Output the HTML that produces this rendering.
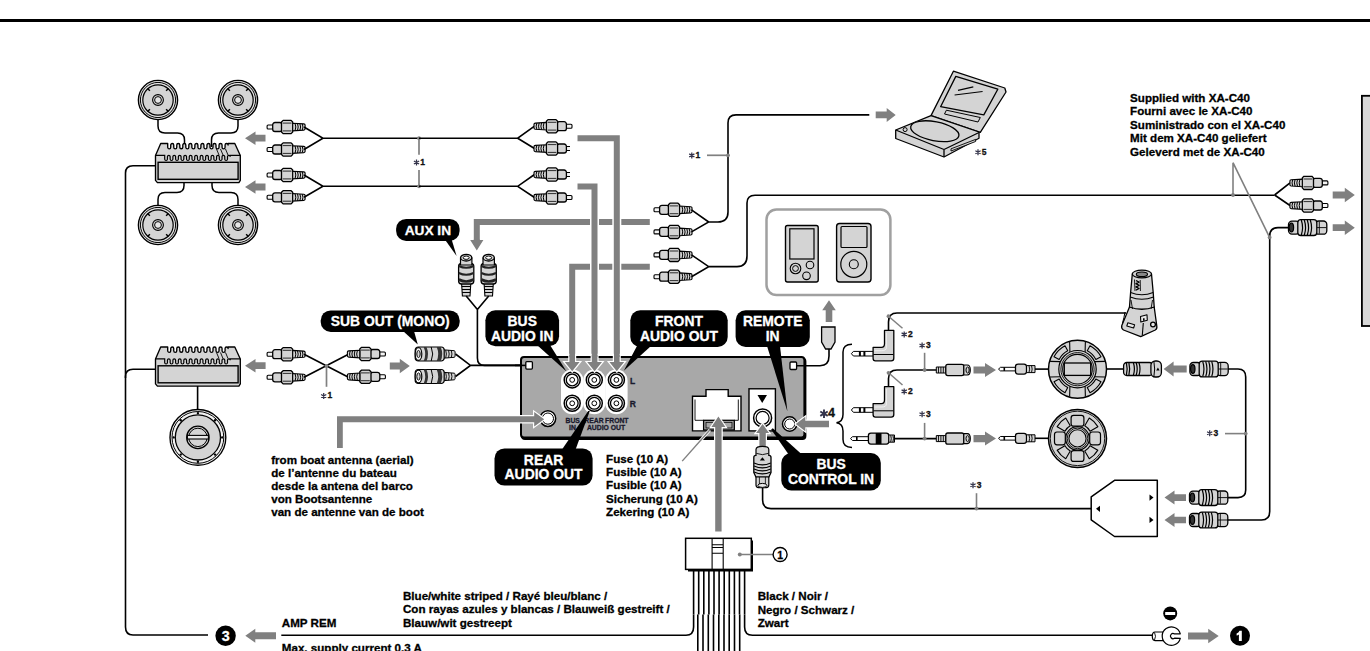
<!DOCTYPE html><html><head><meta charset="utf-8"><style>html,body{margin:0;padding:0;background:#fff;width:1370px;height:651px;overflow:hidden}svg{display:block;font-family:"Liberation Sans",sans-serif}</style></head><body>
<svg width="1370" height="651" viewBox="0 0 1370 651">

<defs>
 <g id="rcaL">
  <rect x="0.6" y="-2" width="9" height="4" rx="1" fill="#f4f4f4" stroke="#000" stroke-width="1.1"/>
  <rect x="6.2" y="-4.5" width="9.5" height="9" rx="2.3" fill="#d4d4d4" stroke="#000" stroke-width="1.3"/>
  <path d="M15,-5 L16.6,-6.6 L24.6,-6.6 L26.2,-5 L26.2,5 L24.6,6.6 L16.6,6.6 L15,5 Z" fill="#d4d4d4" stroke="#000" stroke-width="1.3" stroke-linejoin="round"/>
  <path d="M16.2,-3.9 H25 M16.2,3.9 H25" stroke="#000" stroke-width="0.8"/>
  <path d="M26.2,-3.8 L37.2,-3.1 Q38.6,-2.8 38.6,-2 V2 Q38.6,2.8 37.2,3.1 L26.2,3.8 Z" fill="#d4d4d4" stroke="#000" stroke-width="1.1"/>
  <path d="M28.6,-3.5 Q30,0 28.6,3.5 M31,-3.4 Q32.4,0 31,3.4 M33.4,-3.3 Q34.8,0 33.4,3.3 M35.8,-3.1 Q37.1,0 35.8,3.1" stroke="#000" stroke-width="1" fill="none"/>
 </g>
 <g id="rcaR"><use href="#rcaL" transform="scale(-1,1)"/></g>
 <g id="femL">
  <path d="M29.5,-4.2 L40.6,-3.3 Q41.4,-3 41.4,-2 V2 Q41.4,3 40.6,3.3 L29.5,4.2 Z" fill="#d4d4d4" stroke="#000" stroke-width="1"/>
  <path d="M32,-3.9 Q33.4,0 32,3.9 M34.8,-3.7 Q36.2,0 34.8,3.7 M37.6,-3.4 Q38.9,0 37.6,3.4" stroke="#000" stroke-width="0.9" fill="none"/>
  <rect x="1.5" y="-7" width="29" height="14" rx="3" fill="#d4d4d4" stroke="#000" stroke-width="1.2"/>
  <path d="M10,-7 Q13,0 10,7 H12.8 Q15.8,0 12.8,-7 Z" fill="#333"/>
  <path d="M23,-7 Q26,0 23,7 H27 Q30,0 27,-7 Z" fill="#333"/>
  <path d="M17.5,-7 Q20.5,0 17.5,7" stroke="#000" stroke-width="1" fill="none"/>
  <ellipse cx="4.8" cy="0" rx="3.3" ry="6.4" fill="#fff" stroke="#000" stroke-width="1.2"/>
  <ellipse cx="4.8" cy="0" rx="1.7" ry="3.6" fill="#d4d4d4" stroke="#000" stroke-width="1"/>
 </g>
 <g id="femR"><use href="#femL" transform="scale(-1,1)"/></g>
 <g id="femV">
  <path d="M-4.6,29.5 H4.6 L3.8,42 H-3.8 Z" fill="#d4d4d4" stroke="#000" stroke-width="1.1"/>
  <path d="M-4.4,32.5 H4.4 M-4.2,35.5 H4.2 M-4,38.5 H4" stroke="#000" stroke-width="1"/>
  <rect x="-7.6" y="9.5" width="15.2" height="20.5" rx="3" fill="#d4d4d4" stroke="#000" stroke-width="1.3"/>
  <path d="M-5.7,3.5 V11 H5.7 V3.5" fill="#d4d4d4" stroke="#000" stroke-width="1.2"/>
  <ellipse cx="0" cy="3.7" rx="5.6" ry="3.3" fill="#d4d4d4" stroke="#000" stroke-width="1.3"/>
  <ellipse cx="0" cy="3.7" rx="3" ry="1.7" fill="#fff" stroke="#000" stroke-width="1"/>
  <path d="M-7.4,12 Q0,15.5 7.4,12" stroke="#222" stroke-width="2.2" fill="none"/>
  <path d="M-7.4,19 Q0,22.5 7.4,19" stroke="#222" stroke-width="2" fill="none"/>
  <path d="M-7.4,25.5 Q0,29.5 7.4,25.5" stroke="#222" stroke-width="2.6" fill="none"/>
 </g>
 <g id="spk">
  <circle r="19.6" fill="#e4e4e4" stroke="#000" stroke-width="1.4"/>
  <circle r="17.6" fill="none" stroke="#000" stroke-width="1"/>
  <circle r="15.2" fill="#d4d4d4" stroke="#000" stroke-width="1.2"/>
  <path d="M-10.5,-11.5 l2.4,2.2 M10.5,-11.5 l-2.4,2.2 M-10.5,11.5 l2.4,-2.2 M10.5,11.5 l-2.4,-2.2" stroke="#000" stroke-width="1.5"/>
  <circle r="5.4" fill="#d4d4d4" stroke="#000" stroke-width="1.1"/>
  <circle r="3.4" fill="#e6e6e6" stroke="#000" stroke-width="1"/>
 </g>
 
 <g id="amp">
  <path d="M5.5,17.5 L10.7,5.5 H17.7 V7.01 v2.28 a1.51,1.51 0 0,0 3.02,0 v-2.28 a1.51,1.51 0 0,1 3.02,0 v2.28 a1.51,1.51 0 0,0 3.02,0 v-2.28 a1.51,1.51 0 0,1 3.02,0 v2.28 a1.51,1.51 0 0,0 3.02,0 v-2.28 a1.51,1.51 0 0,1 3.02,0 v2.28 a1.51,1.51 0 0,0 3.02,0 v-2.28 a1.51,1.51 0 0,1 3.02,0 v2.28 a1.51,1.51 0 0,0 3.02,0 v-2.28 a1.51,1.51 0 0,1 3.02,0 v2.28 a1.51,1.51 0 0,0 3.02,0 v-2.28 a1.51,1.51 0 0,1 3.02,0 v2.28 a1.51,1.51 0 0,0 3.02,0 v-2.28 a1.51,1.51 0 0,1 3.02,0 v2.28 a1.51,1.51 0 0,0 3.02,0 v-2.28 a1.51,1.51 0 0,1 3.02,0 v2.28 a1.51,1.51 0 0,0 3.02,0 v-2.28 a1.51,1.51 0 0,1 3.02,0 v2.28 a1.51,1.51 0 0,0 3.02,0 v-2.28 a1.51,1.51 0 0,1 3.02,0 V5.50  H84.8 L90.3,17.5 V42.4 L88.9,44.6 H7.4 L5.5,42.4 Z" fill="#d4d4d4" stroke="#000" stroke-width="1.35" stroke-linejoin="round"/>
  <path d="M5.5,17.3 H14.7 V18.67 v2.57 a1.37,1.37 0 0,0 2.73,0 v-2.57 a1.37,1.37 0 0,1 2.73,0 v2.57 a1.37,1.37 0 0,0 2.73,0 v-2.57 a1.37,1.37 0 0,1 2.73,0 v2.57 a1.37,1.37 0 0,0 2.73,0 v-2.57 a1.37,1.37 0 0,1 2.73,0 v2.57 a1.37,1.37 0 0,0 2.73,0 v-2.57 a1.37,1.37 0 0,1 2.73,0 v2.57 a1.37,1.37 0 0,0 2.73,0 v-2.57 a1.37,1.37 0 0,1 2.73,0 v2.57 a1.37,1.37 0 0,0 2.73,0 v-2.57 a1.37,1.37 0 0,1 2.73,0 v2.57 a1.37,1.37 0 0,0 2.73,0 v-2.57 a1.37,1.37 0 0,1 2.73,0 v2.57 a1.37,1.37 0 0,0 2.73,0 v-2.57 a1.37,1.37 0 0,1 2.73,0 v2.57 a1.37,1.37 0 0,0 2.73,0 v-2.57 a1.37,1.37 0 0,1 2.73,0 v2.57 a1.37,1.37 0 0,0 2.73,0 v-2.57 a1.37,1.37 0 0,1 2.73,0 v2.57 a1.37,1.37 0 0,0 2.73,0 v-2.57 a1.37,1.37 0 0,1 2.73,0 v2.57 a1.37,1.37 0 0,0 2.73,0 v-2.57 a1.37,1.37 0 0,1 2.73,0 V17.30  H90.3" fill="none" stroke="#000" stroke-width="1.2"/>
  <path d="M66.5,11 L69,17 M70.5,11 L73,17 M75.5,11 L78,17" stroke="#000" stroke-width="0.9"/>
  <rect x="8.1" y="24.3" width="80" height="17" fill="#d4d4d4" stroke="#000" stroke-width="1.4"/>
 </g>
 <g id="jack">
  <circle r="8" fill="#fff" stroke="#000" stroke-width="1.5"/>
  <circle r="5.9" fill="none" stroke="#000" stroke-width="1.3"/>
  <circle r="2.4" fill="none" stroke="#000" stroke-width="1"/>
 </g>
 <g id="lplug">
  <path d="M0,0 L2,-2.3 H22 V2.3 H2 Z" fill="#fff" stroke="#000" stroke-width="1"/>
  <rect x="7.5" y="-2.3" width="2" height="4.6" fill="#000"/>
  <rect x="12" y="-2.3" width="2" height="4.6" fill="#000"/>
  <path d="M21.7,-6.4 H30 Q33.1,-6.4 33.1,-10 V-23.3 H42.4 V4.5 Q42.4,7.1 39.8,7.1 H24 Q21.7,7.1 21.7,4.5 Z" fill="#d4d4d4" stroke="#000" stroke-width="1.3" stroke-linejoin="round"/>
  <path d="M22,0.8 H42" stroke="#000" stroke-width="1"/>
  <path d="M35,-21 V-6 Q35,-3 30,-3 H23" stroke="#fff" stroke-width="0.8" fill="none" opacity="0.8"/>
 </g>
 <g id="minif">
  <path d="M0,-3 H9.5 V3 H0 Z" fill="#d4d4d4" stroke="#000" stroke-width="1"/>
  <path d="M2.2,-3 V3 M4.6,-3 V3 M7,-3 V3" stroke="#000" stroke-width="0.9"/>
  <rect x="9.5" y="-5.6" width="18" height="11.2" rx="2" fill="#d4d4d4" stroke="#000" stroke-width="1.3"/>
  <path d="M27.5,-5 H31 Q34,-5 34,0 Q34,5 31,5 H27.5 Z" fill="#d4d4d4" stroke="#000" stroke-width="1.2"/>
  <ellipse cx="31.3" cy="0" rx="1.6" ry="3" fill="none" stroke="#000" stroke-width="1"/>
 </g>
 <g id="minim">
  <path d="M0,0 L2,-1.8 H17 V1.8 H2 Z" fill="#fff" stroke="#000" stroke-width="1"/>
  <rect x="5" y="-1.8" width="1.6" height="3.6" fill="#000"/>
  <rect x="17" y="-5" width="11" height="10" rx="2.5" fill="#d4d4d4" stroke="#000" stroke-width="1.3"/>
  <path d="M28,-3.5 H36.5 V3.5 H28 Z" fill="#d4d4d4" stroke="#000" stroke-width="1"/>
  <path d="M30.5,-3.5 Q31.8,0 30.5,3.5 M33,-3.5 Q34.3,0 33,3.5" stroke="#000" stroke-width="0.9" fill="none"/>
 </g>
 <g id="busR">
  <rect x="27.5" y="-6.6" width="11.5" height="13.2" rx="3.5" fill="#d4d4d4" stroke="#000" stroke-width="1.3"/>
  <path d="M29,0 H38.5 M31.5,-6 V6" stroke="#000" stroke-width="0.9"/>
  <rect x="0.7" y="-6.5" width="11" height="13" rx="3.5" fill="#d4d4d4" stroke="#000" stroke-width="1.3"/>
  <ellipse cx="3.6" cy="0" rx="2.2" ry="4.4" fill="#333" stroke="#000" stroke-width="1.2"/>
  <rect x="10" y="-7.9" width="19" height="15.8" rx="3" fill="#d4d4d4" stroke="#000" stroke-width="1.3"/>
  <path d="M13.5,-7.6 Q16,0 13.5,7.6 M16.5,-7.6 Q19,0 16.5,7.6 M19.5,-7.6 Q22,0 19.5,7.6 M22.5,-7.6 Q25,0 22.5,7.6" stroke="#000" stroke-width="1.2" fill="none"/>
 </g>
 <g id="busL">
  <rect x="0.7" y="-6.5" width="29" height="13" rx="3.2" fill="#d4d4d4" stroke="#000" stroke-width="1.3"/>
  <path d="M3.5,-6 Q5,0 3.5,6 M6,-6 Q7.5,0 6,6 M10.5,-6.2 Q12.5,0 10.5,6.2 M13.3,-6.2 Q15.3,0 13.3,6.2 M16.1,-6.2 Q18.1,0 16.1,6.2" stroke="#000" stroke-width="1.2" fill="none"/>
  <rect x="28" y="-8" width="10.5" height="16" rx="4.5" fill="#d4d4d4" stroke="#000" stroke-width="1.3"/>
  <path d="M31,-7.5 Q32.5,0 31,7.5" stroke="#000" stroke-width="1" fill="none"/>
  <path d="M33.3,1.5 L35,-1.5 L36.7,1.5 Z" fill="#000"/>
 </g>
</defs>

<rect x="0" y="19" width="1370" height="3" fill="#000"/>
<path d="M158,118 V126 Q158,133 165,133 H177.5 Q184.5,133 184.5,140 V147" stroke="#000" stroke-width="1.5" fill="none" />
<path d="M238,118 V126 Q238,133 231,133 H218.5 Q211.5,133 211.5,140 V147" stroke="#000" stroke-width="1.5" fill="none" />
<path d="M184,182 V185.5 Q184,192.5 177,192.5 H165 Q158,192.5 158,199.5 V206" stroke="#000" stroke-width="1.5" fill="none" />
<path d="M212,182 V185.5 Q212,192.5 219,192.5 H231 Q238,192.5 238,199.5 V206" stroke="#000" stroke-width="1.5" fill="none" />
<use href="#spk" x="158" y="100" />
<use href="#spk" x="238" y="100" />
<use href="#spk" x="158" y="225" />
<use href="#spk" x="238" y="225" />
<use href="#amp" x="150" y="138" />
<path d="M155.5,165.7 H133 Q125.5,165.7 125.5,173 V627 Q125.5,635 133,635 H208" stroke="#000" stroke-width="1.6" fill="none" />
<path d="M125.5,378 V376.5 Q125.5,369.2 133,369.2 H155.5" stroke="#000" stroke-width="1.6" fill="none" />
<use href="#amp" x="150" y="341.5" />
<polygon points="245.00,138.20 255.50,131.40 255.50,134.80 265.50,134.80 265.50,141.60 255.50,141.60 255.50,145.00" fill="#808080" stroke="none" stroke-width="0" />
<polygon points="245.00,187.00 255.50,180.20 255.50,183.60 265.50,183.60 265.50,190.40 255.50,190.40 255.50,193.80" fill="#808080" stroke="none" stroke-width="0" />
<polygon points="245.00,365.70 255.50,358.90 255.50,362.30 265.60,362.30 265.60,369.10 255.50,369.10 255.50,372.50" fill="#808080" stroke="none" stroke-width="0" />
<use href="#rcaL" x="266.5" y="127" />
<use href="#rcaL" x="266.5" y="149.5" />
<use href="#rcaL" x="266.5" y="175" />
<use href="#rcaL" x="266.5" y="197.3" />
<path d="M304,127 L323,138.2 L304,149.5 M323,138.2 H419" stroke="#000" stroke-width="1.6" fill="none" />
<path d="M304,175 L323,186.3 L304,197.3 M323,186.3 H419" stroke="#000" stroke-width="1.6" fill="none" />
<path d="M419,138.2 V154.8 M419,170 V186.3" stroke="#808080" stroke-width="1.7" fill="none" />
<circle cx="419" cy="138.2" r="1.9" fill="#808080"/><circle cx="419" cy="186.3" r="1.9" fill="#808080"/>
<path d="M416.50,159.50 L416.50,165.50 M413.90,161.00 L419.10,164.00 M419.10,161.00 L413.90,164.00 " stroke="#33334a" stroke-width="1.25" fill="none"/>
<text x="420.3" y="164.7" font-size="8.5" text-anchor="start" fill="#111" stroke="#111" stroke-width="0.3" font-weight="bold" >1</text>
<path d="M419,138.2 H517.7 L534.5,126.2 M517.7,138.2 L534.5,148.5" stroke="#000" stroke-width="1.6" fill="none" />
<path d="M419,186.3 H517.7 L534.5,174.5 M517.7,186.3 L534.5,197.5" stroke="#000" stroke-width="1.6" fill="none" />
<use href="#rcaR" x="572.6" y="126.2" />
<use href="#rcaR" x="572.6" y="148.5" />
<use href="#rcaR" x="572.6" y="174.5" />
<use href="#rcaR" x="572.6" y="197.5" />
<use href="#rcaL" x="266.5" y="354.2" />
<use href="#rcaL" x="266.5" y="377.3" />
<path d="M304,354.2 L348.5,377.3 M304,377.3 L348.5,354.2" stroke="#000" stroke-width="1.6" fill="none" />
<path d="M326.5,366 V386.8" stroke="#808080" stroke-width="1.7" fill="none" />
<circle cx="326.5" cy="366" r="1.9" fill="#808080"/>
<path d="M323.70,393.00 L323.70,399.00 M321.10,394.50 L326.30,397.50 M326.30,394.50 L321.10,397.50 " stroke="#33334a" stroke-width="1.25" fill="none"/>
<text x="327.5" y="398.2" font-size="8.5" text-anchor="start" fill="#111" stroke="#111" stroke-width="0.3" font-weight="bold" >1</text>
<use href="#rcaR" x="386" y="354" />
<use href="#rcaR" x="386" y="376.8" />
<polygon points="409.80,366.00 399.80,358.80 399.80,362.40 389.80,362.40 389.80,369.60 399.80,369.60 399.80,373.20" fill="#808080" stroke="none" stroke-width="0" />
<use href="#femL" x="413.7" y="354" />
<use href="#femL" x="413.7" y="376.5" />
<path d="M455.5,354 L470.5,365.4 L455.5,376.5 M470.5,365.4 H526" stroke="#000" stroke-width="1.6" fill="none" />
<path d="M197.6,386 V409" stroke="#000" stroke-width="1.6" fill="none" />
<g transform="translate(197.9,437.4)"><circle r="27.9" fill="#f2f2f2" stroke="#000" stroke-width="1.4"/><circle r="25.9" fill="none" stroke="#000" stroke-width="1"/><circle r="22.6" fill="#d4d4d4" stroke="#000" stroke-width="1.3"/><g fill="#000"><circle cx="0" cy="-24.3" r="1.2"/><circle cx="0" cy="24.3" r="1.2"/><circle cx="-24.3" cy="0" r="1.2"/><circle cx="24.3" cy="0" r="1.2"/><circle cx="-17.2" cy="-17.2" r="1.2"/><circle cx="17.2" cy="-17.2" r="1.2"/><circle cx="-17.2" cy="17.2" r="1.2"/><circle cx="17.2" cy="17.2" r="1.2"/></g><circle r="11.2" fill="#d4d4d4" stroke="#000" stroke-width="1.3"/><circle r="9.2" fill="none" stroke="#000" stroke-width="1"/><rect x="-10.5" y="-2" width="21" height="3.6" fill="#e8e8e8" stroke="#000" stroke-width="1.1"/></g>
<polygon points="444.50,239.00 451.50,239.00 456.60,256.00" fill="#000" stroke="none" stroke-width="0" />
<rect x="396.1" y="218.9" width="63.50" height="22.00" rx="10" fill="#000"/>
<text x="427.85" y="234.83" font-size="13.7" text-anchor="middle" fill="#fff" stroke="#fff" stroke-width="0.3" font-weight="bold" >AUX IN</text>
<use href="#femV" x="466.2" y="254" />
<use href="#femV" x="488.7" y="254" />
<path d="M466.2,296 L477.4,309.5 L488.7,296 M477.4,309.5 V358 Q477.4,365.4 484.5,365.4 H526" stroke="#000" stroke-width="1.6" fill="none" />
<polygon points="403.00,331.00 414.00,331.00 417.80,344.50" fill="#000" stroke="none" stroke-width="0" />
<rect x="320.7" y="310.4" width="139.00" height="21.60" rx="10" fill="#000"/>
<text x="390.2" y="326.2" font-size="13.9" text-anchor="middle" fill="#fff" stroke="#fff" stroke-width="0.3" font-weight="bold" >SUB OUT (MONO)</text>
<path d="M649.8,222 H476.8 V240" stroke="#808080" stroke-width="6" fill="none"/>
<polygon points="476.80,250.50 470.20,240.00 473.80,240.00 473.80,239.50 479.80,239.50 479.80,240.00 483.40,240.00" fill="#808080" stroke="none" stroke-width="0" />
<path d="M649.8,266.8 H572.2 V362" stroke="#808080" stroke-width="6" fill="none"/>
<path d="M577.3,186.4 H594.5 V362" stroke="#fff" stroke-width="9" fill="none"/>
<path d="M577.3,186.4 H594.5 V362" stroke="#808080" stroke-width="6" fill="none"/>
<path d="M577.3,138.2 H616.8 V362" stroke="#fff" stroke-width="9" fill="none"/>
<path d="M577.3,138.2 H616.8 V362" stroke="#808080" stroke-width="6" fill="none"/>
<rect x="570" y="131" width="7.3" height="62" fill="#fff"/>
<use href="#rcaL" x="653.4" y="209.8" />
<use href="#rcaL" x="653.4" y="231.9" />
<use href="#rcaL" x="653.4" y="254.9" />
<use href="#rcaL" x="653.4" y="276.7" />
<path d="M691.5,209.8 L708.7,222 L691.5,231.9 M708.7,222 H718 Q728,222 728,212 V123 Q728,114.9 736,114.9 H869.3" stroke="#000" stroke-width="1.6" fill="none" />
<path d="M691.5,254.9 L708.7,266.6 L691.5,276.7 M708.7,266.6 H737 Q747,266.6 747,256 V203 Q747,195.2 755,195.2 H1274.6" stroke="#000" stroke-width="1.6" fill="none" />
<path d="M707,155.3 H728" stroke="#808080" stroke-width="1.7" fill="none" />
<circle cx="728" cy="155.3" r="1.9" fill="#808080"/>
<path d="M691.80,152.40 L691.80,158.40 M689.20,153.90 L694.40,156.90 M694.40,153.90 L689.20,156.90 " stroke="#33334a" stroke-width="1.25" fill="none"/>
<text x="695.6" y="157.6" font-size="8.5" text-anchor="start" fill="#111" stroke="#111" stroke-width="0.3" font-weight="bold" >1</text>
<polygon points="895.70,114.90 886.70,107.90 886.70,111.50 875.70,111.50 875.70,118.30 886.70,118.30 886.70,121.90" fill="#808080" stroke="none" stroke-width="0" />
<rect x="522" y="358.5" width="283.4" height="80.5" rx="3" fill="#000" stroke="#000" stroke-width="2"/>
<rect x="521" y="357" width="283.4" height="80.5" rx="3" fill="#a8a8a8" stroke="#000" stroke-width="2"/>
<path d="M515,365.4 H526" stroke="#000" stroke-width="1.6" fill="none" />
<rect x="525.8" y="361.6" width="6.6" height="7.5" rx="1" fill="#fff" stroke="#000" stroke-width="1.3"/>
<rect x="790" y="362" width="6.6" height="7.5" rx="1" fill="#fff" stroke="#000" stroke-width="1.3"/>
<rect x="561.0" y="369.5" width="22.4" height="44.8" rx="11.2" fill="#fff"/>
<rect x="583.1" y="369.5" width="22.4" height="44.8" rx="11.2" fill="#fff"/>
<rect x="605.2" y="369.5" width="22.4" height="44.8" rx="11.2" fill="#fff"/>
<use href="#jack" x="572.2" y="379.9" />
<use href="#jack" x="572.2" y="403.3" />
<use href="#jack" x="594.3" y="379.9" />
<use href="#jack" x="594.3" y="403.3" />
<use href="#jack" x="616.4" y="379.9" />
<use href="#jack" x="616.4" y="403.3" />
<polygon points="572.20,371.30 564.80,362.10 569.40,362.10 569.40,355.00 575.00,355.00 575.00,362.10 579.60,362.10" fill="#808080" stroke="#fff" stroke-width="2.4" />
<polygon points="572.20,371.30 564.80,362.10 569.40,362.10 569.40,355.00 575.00,355.00 575.00,362.10 579.60,362.10" fill="#808080" stroke="none" stroke-width="0" />
<polygon points="594.60,371.30 587.20,362.10 591.80,362.10 591.80,355.00 597.40,355.00 597.40,362.10 602.00,362.10" fill="#808080" stroke="#fff" stroke-width="2.4" />
<polygon points="594.60,371.30 587.20,362.10 591.80,362.10 591.80,355.00 597.40,355.00 597.40,362.10 602.00,362.10" fill="#808080" stroke="none" stroke-width="0" />
<polygon points="616.80,371.30 609.40,362.10 614.00,362.10 614.00,355.00 619.60,355.00 619.60,362.10 624.20,362.10" fill="#808080" stroke="#fff" stroke-width="2.4" />
<polygon points="616.80,371.30 609.40,362.10 614.00,362.10 614.00,355.00 619.60,355.00 619.60,362.10 624.20,362.10" fill="#808080" stroke="none" stroke-width="0" />
<rect x="569.4" y="340" width="5.6" height="17" fill="#808080"/>
<rect x="591.8" y="340" width="5.6" height="17" fill="#808080"/>
<rect x="614.0" y="340" width="5.6" height="17" fill="#808080"/>
<text x="632.7" y="384" font-size="8.5" text-anchor="middle" fill="#1a1a2e" stroke="#1a1a2e" stroke-width="0.3" font-weight="bold" >L</text>
<text x="632.7" y="407" font-size="8.5" text-anchor="middle" fill="#1a1a2e" stroke="#1a1a2e" stroke-width="0.3" font-weight="bold" >R</text>
<text x="572.7" y="422.8" font-size="6.8" text-anchor="middle" fill="#1a1a2e" stroke="#1a1a2e" stroke-width="0.3" font-weight="bold" >BUS</text>
<text x="572.5" y="430" font-size="6.8" text-anchor="middle" fill="#1a1a2e" stroke="#1a1a2e" stroke-width="0.3" font-weight="bold" >IN</text>
<text x="594" y="422.8" font-size="6.8" text-anchor="middle" fill="#1a1a2e" stroke="#1a1a2e" stroke-width="0.3" font-weight="bold" >REAR</text>
<text x="616.8" y="422.8" font-size="6.8" text-anchor="middle" fill="#1a1a2e" stroke="#1a1a2e" stroke-width="0.3" font-weight="bold" >FRONT</text>
<text x="606" y="430" font-size="6.8" text-anchor="middle" fill="#1a1a2e" stroke="#1a1a2e" stroke-width="0.3" font-weight="bold" >AUDIO OUT</text>
<polygon points="537.00,345.00 550.00,345.00 566.50,371.50" fill="#000" stroke="none" stroke-width="0" />
<rect x="485.4" y="310.3" width="73.70" height="35.90" rx="10" fill="#000"/>
<text x="522.25" y="325.82" font-size="13.9" text-anchor="middle" fill="#fff" stroke="#fff" stroke-width="0.3" font-weight="bold" >BUS</text>
<text x="522.25" y="340.69" font-size="13.9" text-anchor="middle" fill="#fff" stroke="#fff" stroke-width="0.3" font-weight="bold" >AUDIO IN</text>
<polygon points="637.00,346.00 651.00,346.00 623.80,370.80" fill="#000" stroke="none" stroke-width="0" />
<rect x="630.3" y="310.2" width="97.40" height="36.80" rx="10" fill="#000"/>
<text x="679.0" y="326.17" font-size="13.9" text-anchor="middle" fill="#fff" stroke="#fff" stroke-width="0.3" font-weight="bold" >FRONT</text>
<text x="679.0" y="341.04" font-size="13.9" text-anchor="middle" fill="#fff" stroke="#fff" stroke-width="0.3" font-weight="bold" >AUDIO OUT</text>
<polygon points="767.00,346.00 780.00,346.00 787.40,411.50" fill="#000" stroke="none" stroke-width="0" />
<rect x="735.6" y="310.2" width="74.20" height="36.80" rx="10" fill="#000"/>
<text x="772.7" y="326.17" font-size="13.9" text-anchor="middle" fill="#fff" stroke="#fff" stroke-width="0.3" font-weight="bold" >REMOTE</text>
<text x="772.7" y="341.04" font-size="13.9" text-anchor="middle" fill="#fff" stroke="#fff" stroke-width="0.3" font-weight="bold" >IN</text>
<polygon points="561.00,451.00 575.00,451.00 589.80,411.00 588.20,411.00" fill="#000" stroke="none" stroke-width="0" />
<rect x="494.5" y="448.4" width="98.10" height="37.20" rx="10" fill="#000"/>
<text x="543.55" y="464.57" font-size="13.9" text-anchor="middle" fill="#fff" stroke="#fff" stroke-width="0.3" font-weight="bold" >REAR</text>
<text x="543.55" y="479.44" font-size="13.9" text-anchor="middle" fill="#fff" stroke="#fff" stroke-width="0.3" font-weight="bold" >AUDIO OUT</text>
<circle cx="547.9" cy="418.6" r="7.8" fill="#fff" stroke="#000" stroke-width="1.5"/><circle cx="547.9" cy="418.6" r="5.6" fill="#fff" stroke="#000" stroke-width="1"/>
<polygon points="544.20,419.20 534.20,412.00 534.20,416.20 337.00,416.20 337.00,448.00 342.80,448.00 342.80,422.20 534.20,422.20 534.20,426.40" fill="#808080" stroke="#fff" stroke-width="2.4" />
<polygon points="544.20,419.20 534.20,412.00 534.20,416.20 337.00,416.20 337.00,448.00 342.80,448.00 342.80,422.20 534.20,422.20 534.20,426.40" fill="#808080" stroke="none" stroke-width="0" />
<path d="M692.5,396.2 H706 V389.6 H728.2 V396.2 H741 V430.9 H692.5 Z" fill="#fff" stroke="#000" stroke-width="1.4"/>
<path d="M695,399.5 V420.3 H703.6 M738.3,399.5 V420.3 H734.3" stroke="#000" stroke-width="0.9" fill="none"/>
<rect x="703.6" y="420.3" width="30.7" height="9.7" fill="#a8a8a8" stroke="#000" stroke-width="1.3"/>
<rect x="706" y="422.3" width="26" height="5.7" fill="#a8a8a8" stroke="#000" stroke-width="0.8"/>
<rect x="749" y="388.8" width="26.4" height="42.1" fill="#fff" stroke="#000" stroke-width="1.4"/>
<polygon points="757.50,395.00 767.00,395.00 762.20,403.00" fill="#000" stroke="none" stroke-width="0" />
<circle cx="762.6" cy="417.9" r="9" fill="#fff" stroke="#000" stroke-width="1.5"/><circle cx="762.6" cy="417.9" r="6.5" fill="#fff" stroke="#000" stroke-width="1.2"/>
<circle cx="789.7" cy="424" r="7.2" fill="#fff" stroke="#000" stroke-width="1.5"/><circle cx="789.7" cy="424" r="5" fill="#fff" stroke="#000" stroke-width="1"/>
<polygon points="795.80,424.00 805.30,416.80 805.30,420.80 829.00,420.80 829.00,427.20 805.30,427.20 805.30,431.20" fill="#808080" stroke="#fff" stroke-width="2.4" stroke-linejoin="miter"/>
<polygon points="795.80,424.00 805.30,416.80 805.30,420.80 829.00,420.80 829.00,427.20 805.30,427.20 805.30,431.20" fill="#808080" stroke="none" stroke-width="0" />
<path d="M824.00,409.40 L824.00,418.00 M820.28,411.55 L827.72,415.85 M827.72,411.55 L820.28,415.85 " stroke="#33334a" stroke-width="1.9" fill="none"/>
<text x="828.1" y="417.36" font-size="12.5" text-anchor="start" fill="#111" stroke="#111" stroke-width="0.3" font-weight="bold" >4</text>
<polygon points="718.40,416.60 711.40,427.10 715.20,427.10 715.20,531.40 721.60,531.40 721.60,427.10 725.40,427.10" fill="#808080" stroke="#fff" stroke-width="2.4" />
<polygon points="718.40,416.60 711.40,427.10 715.20,427.10 715.20,531.40 721.60,531.40 721.60,427.10 725.40,427.10" fill="#808080" stroke="none" stroke-width="0" />
<polygon points="762.60,424.00 756.10,433.00 759.40,433.00 759.40,447.00 765.80,447.00 765.80,433.00 769.10,433.00" fill="#808080" stroke="#fff" stroke-width="2.4" />
<polygon points="762.60,424.00 756.10,433.00 759.40,433.00 759.40,447.00 765.80,447.00 765.80,433.00 769.10,433.00" fill="#808080" stroke="none" stroke-width="0" />
<path d="M682.2,461.1 L709.8,430" stroke="#fff" stroke-width="3" fill="none" />
<path d="M682.2,461.1 L709.8,430" stroke="#808080" stroke-width="1.4" fill="none" />
<polygon points="789.00,455.00 802.50,455.00 772.80,428.20 771.20,429.40" fill="#000" stroke="none" stroke-width="0" />
<rect x="781.3" y="453" width="99.50" height="37.40" rx="10" fill="#000"/>
<text x="831.05" y="469.27" font-size="13.9" text-anchor="middle" fill="#fff" stroke="#fff" stroke-width="0.3" font-weight="bold" >BUS</text>
<text x="831.05" y="484.14" font-size="13.9" text-anchor="middle" fill="#fff" stroke="#fff" stroke-width="0.3" font-weight="bold" >CONTROL IN</text>
<path d="M796.6,365.7 H820 Q829,365.7 829,356 V349" stroke="#000" stroke-width="1.6" fill="none" />
<path d="M821.6,327 H835 V342 L831,349 H825.6 L821.6,342 Z" fill="#d4d4d4" stroke="#000" stroke-width="1.3"/>
<polygon points="829.00,300.30 822.20,310.30 825.70,310.30 825.70,322.00 832.30,322.00 832.30,310.30 835.80,310.30" fill="#808080" stroke="none" stroke-width="0" />
<rect x="766.5" y="209.5" width="123.9" height="85.5" rx="10" fill="#fff" stroke="#a0a0a0" stroke-width="2.5"/>
<rect x="785.5" y="225.5" width="32.7" height="56.5" rx="2" fill="#d4d4d4" stroke="#000" stroke-width="1.4"/>
<rect x="789.8" y="228.8" width="24.2" height="30.2" fill="#d4d4d4" stroke="#000" stroke-width="1.2"/>
<circle cx="795.5" cy="268.5" r="5.3" fill="none" stroke="#000" stroke-width="1.1"/><circle cx="795.5" cy="268.5" r="2.9" fill="none" stroke="#000" stroke-width="1"/><circle cx="810" cy="265" r="3.8" fill="none" stroke="#000" stroke-width="1.1"/><circle cx="806.5" cy="275.8" r="3.8" fill="none" stroke="#000" stroke-width="1.1"/>
<rect x="836.6" y="223.5" width="34.4" height="58.5" rx="3" fill="#d4d4d4" stroke="#000" stroke-width="1.4"/>
<rect x="841" y="226.5" width="26" height="21" rx="1" fill="#d4d4d4" stroke="#000" stroke-width="1.2"/>
<circle cx="853.8" cy="264.3" r="13" fill="none" stroke="#000" stroke-width="1.2"/><circle cx="853.8" cy="264.3" r="4.5" fill="none" stroke="#000" stroke-width="1.1"/>
<g stroke="#000" stroke-width="1.3" stroke-linejoin="round" fill="#d4d4d4"><path d="M931,115.6 L953.4,71.2 L1004.8,88 L1006,92 L980.3,132.4 Z"/><path d="M955.8,76.4 L997.8,89.2 L983.8,114.9 L940.6,106.7 Z"/><path d="M946.4,110.2 L980.3,117.5 L978,122 L944.5,114 Z" stroke-width="1"/><path d="M895.7,130 L931,115.6 L979,132 L979,138.3 L944,157 L895.7,138.5 Z"/><path d="M895.7,130 L944,149.5 L979,132.5 M944,149.5 V157" fill="none"/><ellipse cx="934.8" cy="131.2" rx="24.5" ry="9.5" transform="rotate(11 934.8 131.2)"/><circle cx="905.1" cy="129.6" r="2" fill="none" stroke-width="1"/><path d="M951,148.8 L975.6,139.4 L975.6,141.5 L951,151 Z" stroke-width="0.9"/><path d="M958,90.4 L973.3,86.9 M954.6,95 L982.6,91.5" fill="none" stroke-width="1.1"/></g>
<path d="M978.00,149.30 L978.00,155.30 M975.40,150.80 L980.60,153.80 M980.60,150.80 L975.40,153.80 " stroke="#33334a" stroke-width="1.25" fill="none"/>
<text x="981.8" y="154.5" font-size="8.5" text-anchor="start" fill="#111" stroke="#111" stroke-width="0.3" font-weight="bold" >5</text>
<path d="M852,344.2 Q843,344.2 843,352 V414.5 Q843,421.8 836.5,422.8 Q843,423.8 843,431 V439.5 Q843,447.4 852,447.4" stroke="#000" stroke-width="1.5" fill="none" />
<use href="#lplug" x="851.4" y="353.7" />
<use href="#lplug" x="851.4" y="410" />
<path d="M888.5,330.3 V322 Q888.5,313 897,313 H1126" stroke="#000" stroke-width="1.6" fill="none" />
<path d="M888.5,386.8 V378.5 Q888.5,370 897,370 H937" stroke="#000" stroke-width="1.6" fill="none" />
<path d="M888.5,316.2 L902.5,328.3" stroke="#808080" stroke-width="1.5" fill="none" />
<circle cx="888.5" cy="316.2" r="1.9" fill="#808080"/>
<path d="M888.5,372.8 L902.5,385" stroke="#808080" stroke-width="1.5" fill="none" />
<circle cx="888.5" cy="372.8" r="1.9" fill="#808080"/>
<path d="M904.20,331.40 L904.20,337.40 M901.60,332.90 L906.80,335.90 M906.80,332.90 L901.60,335.90 " stroke="#33334a" stroke-width="1.25" fill="none"/>
<text x="908.0" y="336.6" font-size="8.5" text-anchor="start" fill="#111" stroke="#111" stroke-width="0.3" font-weight="bold" >2</text>
<path d="M904.20,388.40 L904.20,394.40 M901.60,389.90 L906.80,392.90 M906.80,389.90 L901.60,392.90 " stroke="#33334a" stroke-width="1.25" fill="none"/>
<text x="908.0" y="393.6" font-size="8.5" text-anchor="start" fill="#111" stroke="#111" stroke-width="0.3" font-weight="bold" >2</text>
<g transform="translate(850.5,438.6)"><path d="M0,0 L2,-1.9 H18 V1.9 H2 Z" fill="#fff" stroke="#000" stroke-width="1"/><rect x="5.5" y="-1.9" width="1.6" height="3.8" fill="#000"/><rect x="17.9" y="-5.5" width="20.4" height="11" rx="2.5" fill="#d4d4d4" stroke="#000" stroke-width="1.3"/><rect x="25.2" y="-5.5" width="5.8" height="11" fill="#000"/><path d="M38.3,-3.6 H44 V3.6 H38.3 Z" fill="#d4d4d4" stroke="#000" stroke-width="1"/><path d="M40.2,-3.4 Q41.4,0 40.2,3.4 M42.4,-3.4 Q43.6,0 42.4,3.4" stroke="#000" stroke-width="0.9" fill="none"/></g>
<path d="M894.5,438.6 H936.5" stroke="#000" stroke-width="1.6" fill="none" />
<path d="M924.6,352.8 V370" stroke="#808080" stroke-width="1.6" fill="none" />
<circle cx="924.6" cy="370" r="1.9" fill="#808080"/>
<path d="M922.10,342.50 L922.10,348.50 M919.50,344.00 L924.70,347.00 M924.70,344.00 L919.50,347.00 " stroke="#33334a" stroke-width="1.25" fill="none"/>
<text x="925.9" y="347.7" font-size="8.5" text-anchor="start" fill="#111" stroke="#111" stroke-width="0.3" font-weight="bold" >3</text>
<path d="M924.6,422.9 V438.6" stroke="#808080" stroke-width="1.6" fill="none" />
<circle cx="924.6" cy="438.6" r="1.9" fill="#808080"/>
<path d="M922.10,411.30 L922.10,417.30 M919.50,412.80 L924.70,415.80 M924.70,412.80 L919.50,415.80 " stroke="#33334a" stroke-width="1.25" fill="none"/>
<text x="925.9" y="416.5" font-size="8.5" text-anchor="start" fill="#111" stroke="#111" stroke-width="0.3" font-weight="bold" >3</text>
<use href="#minif" x="936.3" y="370" />
<use href="#minif" x="936.3" y="438.6" />
<polygon points="996.00,370.00 985.00,363.00 985.00,366.40 973.50,366.40 973.50,373.60 985.00,373.60 985.00,377.00" fill="#808080" stroke="none" stroke-width="0" />
<polygon points="996.00,438.60 985.00,431.60 985.00,435.00 973.50,435.00 973.50,442.20 985.00,442.20 985.00,445.60" fill="#808080" stroke="none" stroke-width="0" />
<use href="#minim" x="998.5" y="369.1" />
<use href="#minim" x="998.5" y="438.3" />
<path d="M1035,369.1 H1049" stroke="#000" stroke-width="1.6" fill="none" />
<path d="M1035,438.3 H1049" stroke="#000" stroke-width="1.6" fill="none" />
<g transform="translate(1077.5,369.2)"><circle r="29" fill="#d4d4d4" stroke="#000" stroke-width="1.5"/><path d="M17.08,-7.61 L27.40,-7.86 M17.08,7.61 L27.40,7.86 M7.61,17.08 L7.86,27.40 M-7.61,17.08 L-7.86,27.40 M-17.08,7.61 L-27.40,7.86 M-17.08,-7.61 L-27.40,-7.86 M-7.61,-17.08 L-7.86,-27.40 M7.61,-17.08 L7.86,-27.40 " stroke="#000" stroke-width="1.1"/><path d="M23.49,12.49 A26.6,26.6 0 0,1 12.49,23.49 L9.77,18.37 A20.8,20.8 0 0,0 18.37,9.77 Z M-12.49,23.49 A26.6,26.6 0 0,1 -23.49,12.49 L-18.37,9.77 A20.8,20.8 0 0,0 -9.77,18.37 Z M-23.49,-12.49 A26.6,26.6 0 0,1 -12.49,-23.49 L-9.77,-18.37 A20.8,20.8 0 0,0 -18.37,-9.77 Z M12.49,-23.49 A26.6,26.6 0 0,1 23.49,-12.49 L18.37,-9.77 A20.8,20.8 0 0,0 9.77,-18.37 Z " fill="#d4d4d4" stroke="#000" stroke-width="1.1" stroke-linejoin="round"/><circle r="18.7" fill="#d4d4d4" stroke="#000" stroke-width="1.2"/><circle r="16.6" fill="none" stroke="#000" stroke-width="0.9"/><circle r="14.8" fill="none" stroke="#000" stroke-width="1.1"/><rect x="-13.2" y="-6.2" width="26.4" height="12.4" fill="#d4d4d4" stroke="#000" stroke-width="1.3"/></g>
<g transform="translate(1077.5,438.4)"><circle r="29" fill="#d4d4d4" stroke="#000" stroke-width="1.5"/><circle r="27.2" fill="none" stroke="#000" stroke-width="0.9"/><rect x="-6.4" y="-23" width="12.8" height="10.8" rx="2.5" fill="#d4d4d4" stroke="#000" stroke-width="1.2"/><rect x="-6.4" y="12.2" width="12.8" height="10.8" rx="2.5" fill="#d4d4d4" stroke="#000" stroke-width="1.2"/><rect x="-23" y="-6.4" width="10.8" height="12.8" rx="2.5" fill="#d4d4d4" stroke="#000" stroke-width="1.2"/><rect x="12.2" y="-6.4" width="10.8" height="12.8" rx="2.5" fill="#d4d4d4" stroke="#000" stroke-width="1.2"/><path d="M20.35,11.75 A23.5,23.5 0 0,1 11.75,20.35 L7.25,12.56 A14.5,14.5 0 0,0 12.56,7.25 Z M-11.75,20.35 A23.5,23.5 0 0,1 -20.35,11.75 L-12.56,7.25 A14.5,14.5 0 0,0 -7.25,12.56 Z M-20.35,-11.75 A23.5,23.5 0 0,1 -11.75,-20.35 L-7.25,-12.56 A14.5,14.5 0 0,0 -12.56,-7.25 Z M11.75,-20.35 A23.5,23.5 0 0,1 20.35,-11.75 L12.56,-7.25 A14.5,14.5 0 0,0 7.25,-12.56 Z " fill="#d4d4d4" stroke="#000" stroke-width="1.1" stroke-linejoin="round"/><circle r="11.8" fill="#d4d4d4" stroke="#000" stroke-width="1.2"/><circle r="10.3" fill="none" stroke="#000" stroke-width="0.9"/><circle r="8.6" fill="#d4d4d4" stroke="#000" stroke-width="1.1"/></g>
<path d="M1106.8,369 H1124" stroke="#000" stroke-width="1.6" fill="none" />
<use href="#busL" x="1122.9" y="369" />
<polygon points="1163.60,369.00 1173.60,361.50 1173.60,365.50 1186.70,365.50 1186.70,372.50 1173.60,372.50 1173.60,376.50" fill="#808080" stroke="none" stroke-width="0" />
<use href="#busR" x="1189.2" y="369" />
<path d="M1228,369 H1238 Q1245.7,369 1245.7,377 V490 Q1245.7,497.6 1238,497.6 H1227.5" stroke="#000" stroke-width="1.6" fill="none" />
<path d="M1245.7,433.6 H1225" stroke="#808080" stroke-width="1.6" fill="none" />
<circle cx="1245.7" cy="433.6" r="1.9" fill="#808080"/>
<path d="M1209.70,430.30 L1209.70,436.30 M1207.10,431.80 L1212.30,434.80 M1212.30,431.80 L1207.10,434.80 " stroke="#33334a" stroke-width="1.25" fill="none"/>
<text x="1213.5" y="435.5" font-size="8.5" text-anchor="start" fill="#111" stroke="#111" stroke-width="0.3" font-weight="bold" >3</text>
<g stroke="#000" stroke-width="1.3" fill="#d4d4d4" stroke-linejoin="round"><path d="M1129.5,307 L1121.8,325.5 Q1121,328.5 1123.5,330 L1140.7,336.6 L1155.3,330 Q1157.3,328.8 1156.8,326 L1154.2,307 Z"/><path d="M1132.3,274 L1130.6,292.5 L1129.5,307 Q1141.8,311.5 1154.2,307 L1153.2,292.5 L1151.5,274 Z"/><path d="M1130.6,292.5 Q1141.8,297 1153.2,292.5 M1130.2,297 Q1141.8,301.5 1153.6,297" fill="none" stroke-width="1.1"/><ellipse cx="1141.9" cy="274" rx="9.6" ry="3.9"/><ellipse cx="1141.9" cy="274.3" rx="5.6" ry="2.3" fill="#888" stroke-width="1.1"/><path d="M1134.5,279.5 L1135,291 M1140.2,280 L1140.4,291" fill="none" stroke-width="0.9"/><path d="M1136,280.5 l3,1.6 l-3,1.6 l3,1.6 l-3,1.6 l3,1.6 l-3,1.6" fill="none" stroke-width="1.4"/><path d="M1131,300 L1132.5,309 M1152.5,300 L1151,309" fill="none" stroke-width="0.9"/><path d="M1140.5,316.5 L1147,314.8 L1147.3,320.3 L1140.8,322 Z" fill="#e8e8e8" stroke-width="1.1"/><path d="M1143.8,318.2 V320.8" stroke-width="1.6"/><path d="M1127.8,322.8 L1134.6,324.8 L1133.6,328 L1126.8,326 Z" fill="#e8e8e8" stroke-width="1.1"/><path d="M1143.3,323 L1142.3,335" fill="none" stroke-width="1.1"/><path d="M1125,312 Q1124,318 1122.5,323" fill="none" stroke-width="1"/><circle cx="1153" cy="324.5" r="2.4" fill="#e8e8e8" stroke-width="1.3"/></g>
<path d="M762.6,487.2 V500 Q762.6,508.6 771,508.6 H1091.2" stroke="#000" stroke-width="1.6" fill="none" />
<path d="M976.5,493.2 V508.6" stroke="#808080" stroke-width="1.6" fill="none" />
<circle cx="976.5" cy="508.6" r="1.9" fill="#808080"/>
<path d="M973.00,482.30 L973.00,488.30 M970.40,483.80 L975.60,486.80 M975.60,483.80 L970.40,486.80 " stroke="#33334a" stroke-width="1.25" fill="none"/>
<text x="976.8" y="487.5" font-size="8.5" text-anchor="start" fill="#111" stroke="#111" stroke-width="0.3" font-weight="bold" >3</text>
<path d="M1114.5,480.3 H1157.3 V536.5 H1114.5 L1091.2,519.9 V496.9 Z" fill="#fff" stroke="#000" stroke-width="1.5" stroke-linejoin="round"/>
<polygon points="1149.50,494.50 1153.50,497.60 1149.50,500.70" fill="#000" stroke="none" stroke-width="0" />
<polygon points="1149.50,516.80 1153.50,519.90 1149.50,523.00" fill="#000" stroke="none" stroke-width="0" />
<polygon points="1100.00,505.70 1096.00,508.80 1100.00,511.90" fill="#000" stroke="none" stroke-width="0" />
<use href="#busR" x="1188.8" y="497.6" />
<use href="#busR" x="1188.8" y="520" />
<polygon points="1164.50,497.60 1174.50,490.60 1174.50,494.30 1186.00,494.30 1186.00,500.90 1174.50,500.90 1174.50,504.60" fill="#808080" stroke="none" stroke-width="0" />
<polygon points="1164.50,520.00 1174.50,513.00 1174.50,516.70 1186.00,516.70 1186.00,523.30 1174.50,523.30 1174.50,527.00" fill="#808080" stroke="none" stroke-width="0" />
<path d="M1227.5,520 H1261.5 Q1269.7,520 1269.7,511.5 V236 Q1269.7,227.6 1278,227.6 H1288.5" stroke="#000" stroke-width="1.6" fill="none" />
<g transform="translate(762.4,446.4)" stroke="#000" fill="#d4d4d4" stroke-linejoin="round"><rect x="-6.4" y="22" width="12.8" height="19.2" rx="2.5" stroke-width="1.2"/><path d="M-3,30 V40 M3,30 V40" stroke-width="0.8" fill="none"/><ellipse cx="0" cy="39" rx="4.5" ry="2" fill="#e8e8e8" stroke-width="1"/><path d="M-8.6,11 Q-8.6,9 -6.5,9 H6.5 Q8.6,9 8.6,11 V26 L6.5,30.5 H-6.5 L-8.6,26 Z" stroke-width="1.3"/><path d="M-8.3,16.5 Q0,20.5 8.3,16.5 M-8.3,19.5 Q0,23.5 8.3,19.5 M-8.3,22.5 Q0,26.5 8.3,22.5 M-8.3,25.5 Q0,29.5 8.3,25.5" stroke-width="1.15" fill="none"/><path d="M-6.4,9.5 V3 Q-6.4,0 0,0 Q6.4,0 6.4,3 V9.5" stroke-width="1.2"/><path d="M-6,7 Q0,9.5 6,7" stroke-width="0.9" fill="none"/><path d="M-2.6,14.2 L0,10.8 L2.6,14.2 Z" fill="#000" stroke="none"/></g>
<text x="1130.1" y="101.8" font-size="11.6" text-anchor="start" fill="#000" stroke="#000" stroke-width="0.3" font-weight="bold" >Supplied with XA-C40</text>
<text x="1130.1" y="115.3" font-size="11.6" text-anchor="start" fill="#000" stroke="#000" stroke-width="0.3" font-weight="bold" >Fourni avec le XA-C40</text>
<text x="1130.1" y="128.8" font-size="11.6" text-anchor="start" fill="#000" stroke="#000" stroke-width="0.3" font-weight="bold" >Suministrado con el XA-C40</text>
<text x="1130.1" y="142.3" font-size="11.6" text-anchor="start" fill="#000" stroke="#000" stroke-width="0.3" font-weight="bold" >Mit dem XA-C40 geliefert</text>
<text x="1130.1" y="155.8" font-size="11.6" text-anchor="start" fill="#000" stroke="#000" stroke-width="0.3" font-weight="bold" >Geleverd met de XA-C40</text>
<path d="M1233,162.7 V195 M1233,162.7 L1269.6,237.4" stroke="#808080" stroke-width="1.6" fill="none" />
<circle cx="1233" cy="195" r="1.9" fill="#808080"/><circle cx="1269.6" cy="237.4" r="1.9" fill="#808080"/>
<path d="M1274.6,195 L1290,182.9 M1274.6,195 L1290,205.5" stroke="#000" stroke-width="1.6" fill="none" />
<use href="#rcaR" x="1328.5" y="182.9" />
<use href="#rcaR" x="1328.5" y="205.5" />
<use href="#busR" x="1287.8" y="227.6" />
<polygon points="1354.80,195.00 1344.80,187.80 1344.80,191.60 1332.70,191.60 1332.70,198.40 1344.80,198.40 1344.80,202.20" fill="#808080" stroke="none" stroke-width="0" />
<polygon points="1354.80,227.70 1344.80,220.50 1344.80,224.30 1332.70,224.30 1332.70,231.10 1344.80,231.10 1344.80,234.90" fill="#808080" stroke="none" stroke-width="0" />
<rect x="1361.9" y="95.8" width="20" height="230.2" fill="#d8d8d8" stroke="#000" stroke-width="1.8"/>
<text x="271.2" y="463.7" font-size="11.6" text-anchor="start" fill="#000" stroke="#000" stroke-width="0.3" font-weight="bold" >from boat antenna (aerial)</text>
<text x="271.2" y="476.85" font-size="11.6" text-anchor="start" fill="#000" stroke="#000" stroke-width="0.3" font-weight="bold" >de l&#8217;antenne du bateau</text>
<text x="271.2" y="490.0" font-size="11.6" text-anchor="start" fill="#000" stroke="#000" stroke-width="0.3" font-weight="bold" >desde la antena del barco</text>
<text x="271.2" y="503.15" font-size="11.6" text-anchor="start" fill="#000" stroke="#000" stroke-width="0.3" font-weight="bold" >von Bootsantenne</text>
<text x="271.2" y="516.3" font-size="11.6" text-anchor="start" fill="#000" stroke="#000" stroke-width="0.3" font-weight="bold" >van de antenne van de boot</text>
<text x="606.1" y="463.4" font-size="11.6" text-anchor="start" fill="#000" stroke="#000" stroke-width="0.3" font-weight="bold" >Fuse (10 A)</text>
<text x="606.1" y="476.3" font-size="11.6" text-anchor="start" fill="#000" stroke="#000" stroke-width="0.3" font-weight="bold" >Fusible (10 A)</text>
<text x="606.1" y="489.3" font-size="11.6" text-anchor="start" fill="#000" stroke="#000" stroke-width="0.3" font-weight="bold" >Fusible (10 A)</text>
<text x="606.1" y="503.3" font-size="11.6" text-anchor="start" fill="#000" stroke="#000" stroke-width="0.3" font-weight="bold" >Sicherung (10 A)</text>
<text x="606.1" y="516.1" font-size="11.6" text-anchor="start" fill="#000" stroke="#000" stroke-width="0.3" font-weight="bold" >Zekering (10 A)</text>
<text x="403" y="599.8" font-size="11.6" text-anchor="start" fill="#000" stroke="#000" stroke-width="0.3" font-weight="bold" >Blue/white striped / Ray&#233; bleu/blanc /</text>
<text x="403" y="613.2" font-size="11.6" text-anchor="start" fill="#000" stroke="#000" stroke-width="0.3" font-weight="bold" >Con rayas azules y blancas / Blauwei&#223; gestreift /</text>
<text x="403" y="626.6" font-size="11.6" text-anchor="start" fill="#000" stroke="#000" stroke-width="0.3" font-weight="bold" >Blauw/wit gestreept</text>
<text x="757.7" y="600.3" font-size="11.6" text-anchor="start" fill="#000" stroke="#000" stroke-width="0.3" font-weight="bold" >Black / Noir /</text>
<text x="757.7" y="613.6" font-size="11.6" text-anchor="start" fill="#000" stroke="#000" stroke-width="0.3" font-weight="bold" >Negro / Schwarz /</text>
<text x="757.7" y="626.9" font-size="11.6" text-anchor="start" fill="#000" stroke="#000" stroke-width="0.3" font-weight="bold" >Zwart</text>
<text x="281.8" y="626.6" font-size="11.6" text-anchor="start" fill="#000" stroke="#000" stroke-width="0.3" font-weight="bold" >AMP REM</text>
<text x="281.8" y="652.4" font-size="11.6" text-anchor="start" fill="#000" stroke="#000" stroke-width="0.3" font-weight="bold" >Max. supply current 0.3 A</text>
<circle cx="225.6" cy="635.7" r="10.2" fill="#000"/>
<text x="225.7" y="640.9" font-size="14.3" text-anchor="middle" fill="#fff" stroke="#fff" stroke-width="0.3" font-weight="bold" >3</text>
<polygon points="245.30,635.70 255.30,628.70 255.30,632.20 276.00,632.20 276.00,639.20 255.30,639.20 255.30,642.70" fill="#808080" stroke="none" stroke-width="0" />
<path d="M281.3,635.2 H686 Q693.6,635.2 693.6,627 V614.5" stroke="#000" stroke-width="1.6" fill="none" />
<path d="M744.6,614.5 V627 Q744.6,635.2 752.5,635.2 H1152.3" stroke="#000" stroke-width="1.6" fill="none" />
<rect x="688" y="540.5" width="65" height="31" fill="#000"/>
<rect x="685.6" y="538.3" width="65.7" height="31.1" fill="#fff" stroke="#000" stroke-width="1.5"/>
<path d="M712.1,538.3 V569.4 M723.2,538.3 V569.4 M712.1,544.8 H723.2 M712.1,547.5 H723.2 M712.1,553.3 H723.2" stroke="#000" stroke-width="1.1"/>
<circle cx="739.8" cy="554.5" r="2" fill="#808080"/>
<path d="M739.8,554.5 H773" stroke="#808080" stroke-width="1.4" fill="none" />
<circle cx="780.1" cy="554.5" r="7" fill="#fff" stroke="#000" stroke-width="1.4"/>
<text x="780.1" y="558.6" font-size="10.5" text-anchor="middle" fill="#000" stroke="#000" stroke-width="0.3" font-weight="bold" >1</text>
<path d="M693.6,571 V614.5 M698.7,571 V614.5 M703.8,571 V614.5 M708.9,571 V614.5 M714.0,571 V614.5 M719.1,571 V614.5 M724.2,571 V614.5 M729.3,571 V614.5 M734.4,571 V614.5 M739.5,571 V614.5 M744.6,571 V614.5" stroke="#000" stroke-width="1.6" fill="none" />
<path d="M697.8,614.5 V651 M703.0,614.5 V651 M708.3,614.5 V651 M713.5,614.5 V651 M718.8,614.5 V651 M724.0,614.5 V651 M729.2,614.5 V651 M734.5,614.5 V651 M739.7,614.5 V651" stroke="#000" stroke-width="1.6" fill="none" />
<g stroke="#000" stroke-width="1.2" fill="#fff" stroke-linejoin="round"><path d="M1155,632 H1163 V640.6 H1155 Q1152.3,640.6 1152.3,636.3 Q1152.3,632 1155,632 Z"/><path d="M1154.5,632.5 Q1156.5,636.3 1154.5,640" fill="none" stroke-width="0.9"/><path d="M1180.3,633.8 A9.2,9.2 0 1,0 1180.3,638.4 L1174.5,638.2 A2.6,2.6 0 1,1 1174.5,633.9 Z"/></g>
<circle cx="1170.2" cy="613.4" r="7" fill="#000"/><rect x="1165.2" y="612" width="10" height="3" fill="#fff"/>
<polygon points="1218.70,636.00 1208.20,628.70 1208.20,632.50 1188.00,632.50 1188.00,639.50 1208.20,639.50 1208.20,643.30" fill="#808080" stroke="none" stroke-width="0" />
<circle cx="1240" cy="635.7" r="10" fill="#000"/>
<path d="M1238.9,641 V634.6 Q1237.9,635.4 1236.6,635.6 V633.4 Q1238.7,632.8 1239.5,630.8 H1241.8 V641 Z" fill="#fff"/>
</svg></body></html>
